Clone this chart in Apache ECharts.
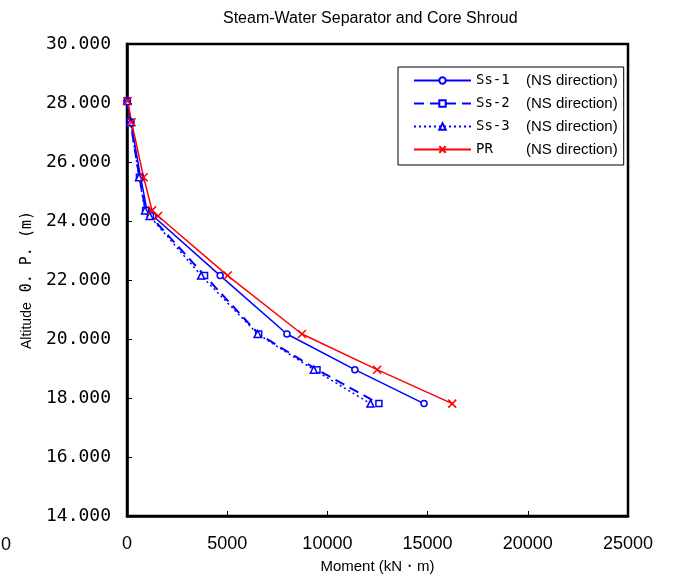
<!DOCTYPE html>
<html>
<head>
<meta charset="utf-8">
<script src="https://cdn.jsdelivr.net/npm/echarts@6/dist/echarts.min.js"></script>
<style>html,body{margin:0;padding:0;background:#fff;}#c{width:681px;height:579px;}</style>
</head>
<body>
<div id="c"></div>
<script>
// Altitude (O.P. m) of each node
var altitude = [28.07, 27.35, 25.48, 24.36, 24.17, 22.15, 20.17, 18.96, 17.81];
// Moments (kN·m)
var ss1 = [20, 200, 680, 1000, 1300, 4650, 7980, 11370, 14820];
var ss2 = [10, 170, 620, 930, 1170, 3870, 6570, 9480, 12570];
var ss3 = [10, 170, 600, 900, 1130, 3700, 6520, 9320, 12150];
var pr  = [30, 230, 830, 1250, 1550, 5020, 8730, 12480, 16230];
var seriesNames = ['Ss-1', 'Ss-2', 'Ss-3', 'PR'];
var xTicks = [0, 5000, 10000, 15000, 20000, 25000];
var yTicks = [14, 16, 18, 20, 22, 24, 26, 28, 30];

function pairs(xs) { return xs.map(function (v, i) { return [v, altitude[i]]; }); }

var blue = '#0000ff', red = '#ff0000';
var chart = echarts.init(document.getElementById('c'), null, {renderer: 'canvas'});
chart.setOption({
  animation: false,
  title: {
    text: 'Steam-Water Separator and Core Shroud',
    left: 218, top: 6,
    textStyle: {fontFamily: 'Liberation Sans', fontSize: 16, fontWeight: 'normal', color: '#000'}
  },
  grid: {left: 127, right: 53, top: 44, bottom: 62, show: true, borderColor: '#000', borderWidth: 2.5, backgroundColor: 'transparent'},
  legend: {
    left: 398, top: 67, orient: 'vertical',
    padding: [6, 6, 8, 15],
    itemWidth: 57, itemHeight: 8, itemGap: 8,
    backgroundColor: '#fff', borderColor: '#000', borderWidth: 1,
    data: seriesNames,
    formatter: function (n) { return '{a|' + n + '}{b|(NS direction)}'; },
    textStyle: {
      rich: {
        a: {fontFamily: 'DejaVu Sans Mono', fontSize: 14, width: 50, color: '#000'},
        b: {fontFamily: 'Liberation Sans', fontSize: 15, color: '#000'}
      }
    }
  },
  xAxis: {
    type: 'value', min: xTicks[0], max: xTicks[xTicks.length - 1], interval: 5000,
    name: 'Moment (kN・m)', nameLocation: 'middle', nameGap: 43,
    nameTextStyle: {fontFamily: 'Liberation Sans', fontSize: 15, color: '#000'},
    axisLine: {lineStyle: {color: '#000', width: 2.5}},
    axisTick: {inside: true, length: 5, lineStyle: {color: '#000'}},
    axisLabel: {margin: 19, fontFamily: 'Liberation Sans', fontSize: 18, color: '#000',
      formatter: function (v) { return String(v); }},
    splitLine: {show: false}
  },
  yAxis: {
    type: 'value', min: yTicks[0], max: yTicks[yTicks.length - 1], interval: 2,
    name: '{a|Altitude}{s| }{b|0. P. (m)}', nameLocation: 'middle', nameGap: 90,
    nameTextStyle: {
      rich: {
        a: {fontFamily: 'Liberation Sans', fontSize: 14, color: '#000'},
        s: {width: 10},
        b: {fontFamily: 'DejaVu Sans Mono', fontSize: 15, color: '#000'}
      }
    },
    axisLine: {lineStyle: {color: '#000', width: 2.5}},
    axisTick: {inside: true, length: 5, lineStyle: {color: '#000'}},
    axisLabel: {margin: 16, fontFamily: 'DejaVu Sans Mono', fontSize: 18, color: '#000',
      formatter: function (v) { return v.toFixed(3); }},
    splitLine: {show: false}
  },
  graphic: [{
    type: 'text', left: 1, top: 536,
    style: {text: '0', fontFamily: 'Liberation Sans', fontSize: 18, fill: '#000'}
  }],
  series: [
    {name: 'Ss-1', type: 'line', data: pairs(ss1), symbol: 'circle', symbolSize: 6,
      lineStyle: {color: blue, width: 1.5}, itemStyle: {color: '#fff', borderColor: blue, borderWidth: 1.5}},
    {name: 'Ss-2', type: 'line', data: pairs(ss2), symbol: 'rect', symbolSize: 6,
      lineStyle: {color: blue, width: 2, type: [10, 6]}, itemStyle: {color: '#fff', borderColor: blue, borderWidth: 1.5}},
    {name: 'Ss-3', type: 'line', data: pairs(ss3), symbol: 'triangle', symbolSize: 7,
      lineStyle: {color: blue, width: 1.5, type: [2, 3]}, itemStyle: {color: '#fff', borderColor: blue, borderWidth: 1.5}},
    {name: 'PR', type: 'line', data: pairs(pr), symbol: 'path://M0,0L10,10M10,0L0,10', symbolSize: 8,
      lineStyle: {color: red, width: 1.5}, itemStyle: {color: 'none', borderColor: red, borderWidth: 1.5}}
  ]
});
</script>
</body>
</html>
